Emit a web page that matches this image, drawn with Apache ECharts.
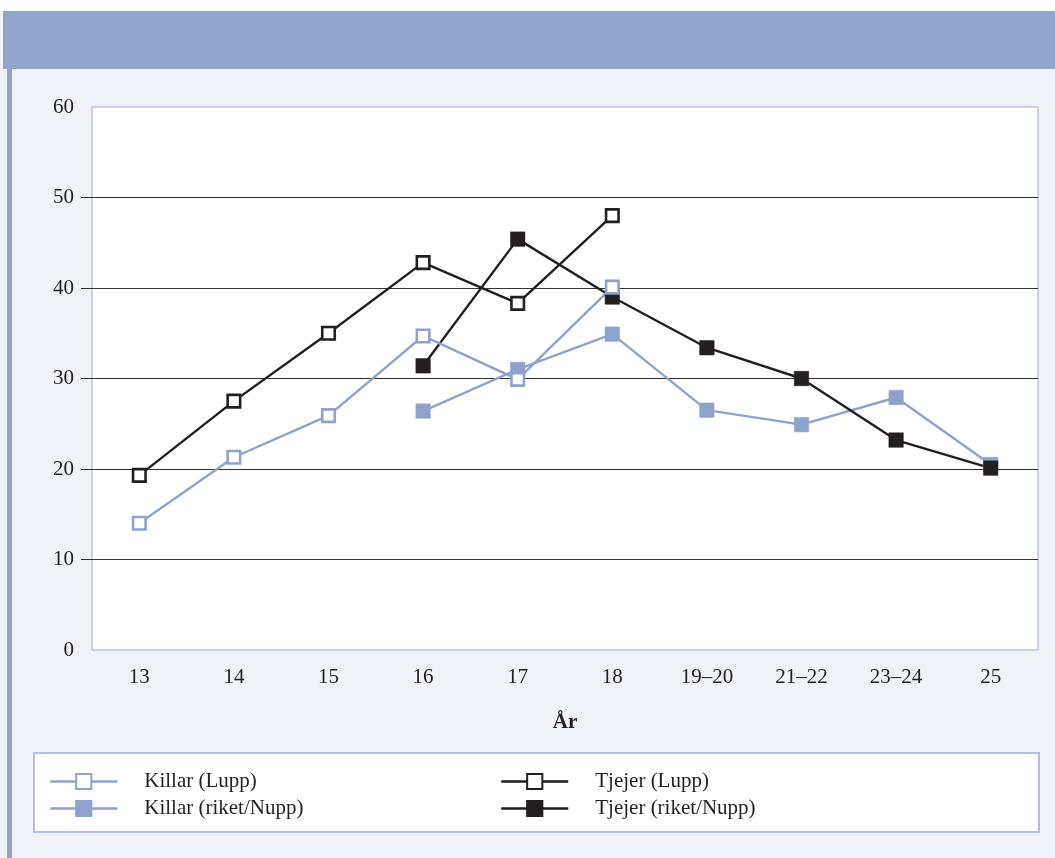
<!DOCTYPE html>
<html>
<head>
<meta charset="utf-8">
<title>Killar / Tjejer per år</title>
<script src="https://cdn.jsdelivr.net/npm/echarts@6/dist/echarts.min.js"></script>
<style>
  html, body { margin: 0; padding: 0; background: #f0f2f7; }
  #chart { width: 1055px; height: 858px; }
</style>
</head>
<body>
<div id="chart"></div>
<script>
// data
var categories = ["13", "14", "15", "16", "17", "18", "19–20", "21–22", "23–24", "25"];
var killarLupp = [14.0, 21.3, 25.9, 34.7, 29.9, 40.1, null, null, null, null];
var killarRiket = [null, null, null, 26.4, 31.0, 34.9, 26.5, 24.9, 27.9, 20.5];
var tjejerLupp = [19.3, 27.5, 35.0, 42.8, 38.3, 48.0, null, null, null, null];
var tjejerRiket = [null, null, null, 31.4, 45.4, 39.0, 33.4, 30.0, 23.2, 20.1];
var yMin = 0, yMax = 60, yStep = 10;
var innerTicks = [10, 20, 30, 40, 50];

var blue = "#8fa2cb";
var dark = "#231f20";
var font = "'Liberation Serif', 'DejaVu Serif', serif";

function lineSeries(name, data, color, open) {
  return {
    name: name,
    type: "line",
    data: data,
    symbol: "rect",
    symbolSize: open ? 12.5 : 14.5,
    connectNulls: false,
    lineStyle: { color: color, width: 2.4 },
    itemStyle: open
      ? { color: "#ffffff", borderColor: color, borderWidth: 2.6 }
      : { color: color, borderColor: color, borderWidth: 0.5 },
    emphasis: { disabled: true }
  };
}

function legendBlock(names, left) {
  return {
    data: names,
    orient: "vertical",
    left: left,
    top: 771,
    padding: 0,
    itemWidth: 67,
    itemHeight: 19,
    itemGap: 6,
    selectedMode: false,
    lineStyle: { width: 2.5 },
    textStyle: { color: dark, fontSize: 21, fontFamily: font, padding: [0, 0, 0, 22] }
  };
}

var chart = echarts.init(document.getElementById("chart"));

var option = {
  backgroundColor: "transparent",
  animation: false,
  textStyle: { fontFamily: font },
  graphic: [
    // white strip + blue header band
    { type: "rect", z: -10, shape: { x: 0, y: 0, width: 1055, height: 11 }, style: { fill: "#ffffff" } },
    { type: "rect", z: -10, shape: { x: 3, y: 11, width: 1052, height: 58 }, style: { fill: "#91a4cb" } },
    // left stripe
    { type: "rect", z: -10, shape: { x: 7, y: 69, width: 5, height: 789 }, style: { fill: "#91a4cb" } },
    // legend box
    {
      type: "rect", z: -5,
      shape: { x: 34, y: 753, width: 1005, height: 79 },
      style: { fill: "#ffffff", stroke: "#b3c1df", lineWidth: 2 }
    }
  ],
  grid: {
    left: 92,
    right: 17,
    top: 107,
    bottom: 208,
    show: true,
    backgroundColor: "#ffffff",
    borderColor: "#98abd4",
    borderWidth: 1
  },
  legend: [
    legendBlock(["Killar (Lupp)", "Killar (riket/Nupp)"], 49),
    legendBlock(["Tjejer (Lupp)", "Tjejer (riket/Nupp)"], 500)
  ],
  xAxis: {
    type: "category",
    data: categories,
    boundaryGap: true,
    name: "År",
    nameLocation: "middle",
    nameGap: 62,
    nameTextStyle: { color: dark, fontSize: 21, fontWeight: "bold", fontFamily: font },
    axisLine: { show: false },
    axisTick: { show: false },
    axisLabel: { color: dark, fontSize: 21, margin: 17, fontFamily: font }
  },
  yAxis: {
    type: "value",
    min: yMin,
    max: yMax,
    interval: yStep,
    axisLine: { show: false },
    axisTick: {
      show: true,
      length: 11,
      customValues: innerTicks,
      lineStyle: { color: "#333333", width: 1 }
    },
    axisLabel: { color: dark, fontSize: 21, margin: 18, fontFamily: font },
    splitLine: {
      show: true,
      lineStyle: { color: "#333333", width: 1 }
    }
  },
  // drawing order: riket first, Lupp on top
  series: [
    lineSeries("Killar (riket/Nupp)", killarRiket, blue, false),
    lineSeries("Tjejer (riket/Nupp)", tjejerRiket, dark, false),
    lineSeries("Killar (Lupp)", killarLupp, blue, true),
    lineSeries("Tjejer (Lupp)", tjejerLupp, dark, true)
  ]
};

chart.setOption(option);
</script>
</body>
</html>
